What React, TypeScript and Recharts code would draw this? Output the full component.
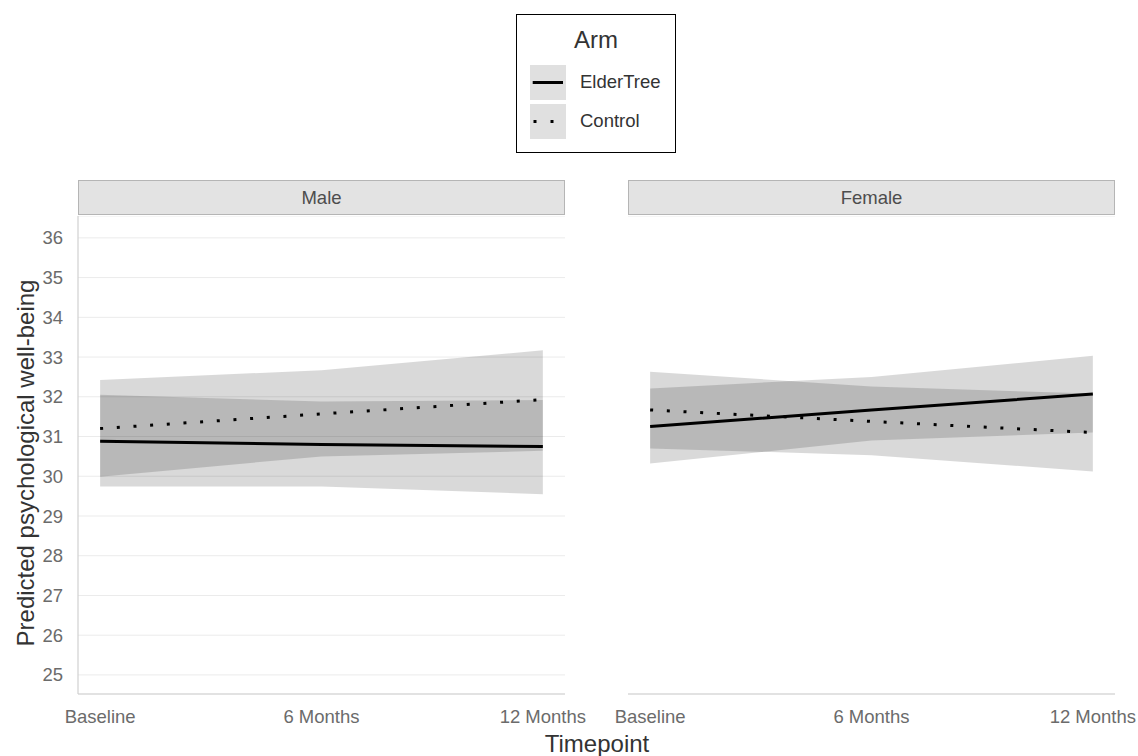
import { ComposedChart, Area, Line, XAxis, YAxis, CartesianGrid } from "recharts";

// months from baseline
const months = [0, 6, 12];
const monthLabels: Record<number, string> = { 0: "Baseline", 6: "6 Months", 12: "12 Months" };
const yTicks = [25, 26, 27, 28, 29, 30, 31, 32, 33, 34, 35, 36];

// Male
const maleElder = [30.88, 30.8, 30.75];
const maleElderLow = [29.74, 29.74, 29.55];
const maleElderHigh = [32.05, 31.88, 31.92];
const maleControl = [31.2, 31.57, 31.93];
const maleControlLow = [29.99, 30.5, 30.64];
const maleControlHigh = [32.42, 32.67, 33.17];

// Female
const femaleElder = [31.25, 31.67, 32.07];
const femaleElderLow = [30.32, 30.9, 31.1];
const femaleElderHigh = [32.21, 32.5, 33.03];
const femaleControl = [31.67, 31.38, 31.1];
const femaleControlLow = [30.7, 30.53, 30.12];
const femaleControlHigh = [32.63, 32.26, 32.08];

const FONT = '"Liberation Sans", Arial, sans-serif';
const AXIS_LINE = "#d0d0d0";
const TICK = { fontSize: 18.5, fill: "#6b6b6b", fontFamily: FONT };

function buildRows(
  elder: number[], elderLow: number[], elderHigh: number[],
  control: number[], controlLow: number[], controlHigh: number[],
) {
  return months.map((m, i) => ({
    month: m,
    elder: elder[i],
    control: control[i],
    elderBand: [elderLow[i], elderHigh[i]],
    controlBand: [controlLow[i], controlHigh[i]],
  }));
}

const maleRows = buildRows(maleElder, maleElderLow, maleElderHigh, maleControl, maleControlLow, maleControlHigh);
const femaleRows = buildRows(femaleElder, femaleElderLow, femaleElderHigh, femaleControl, femaleControlLow, femaleControlHigh);

interface PanelProps {
  data: ReturnType<typeof buildRows>;
  left: number;
  width: number;
  marginLeft: number;
  marginRight: number;
  showY: boolean;
}

function Panel({ data, left, width, marginLeft, marginRight, showY }: PanelProps) {
  return (
    <div style={{ position: "absolute", left, top: 216 }}>
      <ComposedChart
        width={width}
        height={520}
        data={data}
        margin={{ top: 0, right: marginRight, left: marginLeft, bottom: 0 }}
      >
        <CartesianGrid vertical={false} stroke="#ebebeb" strokeWidth={1} />
        <XAxis
          dataKey="month"
          type="number"
          domain={[-0.6, 12.6]}
          ticks={months}
          allowDataOverflow
          tickFormatter={(v: number) => monthLabels[v] ?? ""}
          tick={TICK}
          tickLine={false}
          tickMargin={10}
          height={42}
          axisLine={{ stroke: AXIS_LINE, strokeWidth: 1.2 }}
        />
        <YAxis
          type="number"
          domain={[24.52, 36.55]}
          ticks={yTicks}
          allowDataOverflow
          width={showY ? 78 : 0}
          tick={showY ? TICK : false}
          tickLine={false}
          tickMargin={9}
          axisLine={showY ? { stroke: AXIS_LINE, strokeWidth: 1.2 } : false}
        />

        {/* confidence ribbons */}
        <Area
          dataKey="elderBand"
          type="linear"
          fill="#000"
          fillOpacity={0.15}
          stroke="none"
          isAnimationActive={false}
        />
        <Area
          dataKey="controlBand"
          type="linear"
          fill="#000"
          fillOpacity={0.15}
          stroke="none"
          isAnimationActive={false}
        />

        <Line
          dataKey="elder"
          type="linear"
          stroke="#000"
          strokeWidth={3}
          dot={false}
          isAnimationActive={false}
        />
        <Line
          dataKey="control"
          type="linear"
          stroke="#000"
          strokeWidth={3}
          strokeDasharray="3 13.7"
          strokeLinecap="butt"
          dot={false}
          isAnimationActive={false}
        />
      </ComposedChart>
    </div>
  );
}

function Strip({ left, label }: { left: number; label: string }) {
  return (
    <div
      style={{
        position: "absolute",
        left,
        top: 180,
        width: 487,
        height: 35,
        boxSizing: "border-box",
        background: "#e3e3e3",
        border: "1px solid #b5b5b5",
        display: "flex",
        alignItems: "center",
        justifyContent: "center",
        fontFamily: FONT,
        fontSize: 18.5,
        color: "#4d4d4d",
      }}
    >
      {label}
    </div>
  );
}

function LegendKey({ dotted }: { dotted: boolean }) {
  return (
    <div style={{ width: 36, height: 35, background: "#e0e0e0", position: "relative" }}>
      <svg width={36} height={35} style={{ position: "absolute", left: 0, top: 0 }}>
        {dotted ? (
          <line x1={3.5} y1={17.5} x2={34} y2={17.5} stroke="#000" strokeWidth={3} strokeDasharray="3 14" />
        ) : (
          <line x1={2.7} y1={17.5} x2={33} y2={17.5} stroke="#000" strokeWidth={3} />
        )}
      </svg>
    </div>
  );
}

export default function App() {
  return (
    <div
      style={{
        position: "absolute",
        left: 0,
        top: 0,
        width: 1138,
        height: 756,
        background: "#fff",
        fontFamily: FONT,
        overflow: "hidden",
      }}
    >
      {/* Legend */}
      <div
        style={{
          position: "absolute",
          left: 516,
          top: 14,
          width: 160,
          height: 139,
          boxSizing: "border-box",
          border: "1.5px solid #000",
        }}
      >
        <div
          style={{
            position: "absolute",
            left: 0,
            width: "100%",
            top: 13,
            textAlign: "center",
            fontSize: 24,
            lineHeight: "24px",
            color: "#333",
          }}
        >
          Arm
        </div>
        <div style={{ position: "absolute", left: 13, top: 49.5, display: "flex", alignItems: "center", gap: 14 }}>
          <LegendKey dotted={false} />
          <span style={{ fontSize: 18.5, color: "#333" }}>ElderTree</span>
        </div>
        <div style={{ position: "absolute", left: 13, top: 88.5, display: "flex", alignItems: "center", gap: 14 }}>
          <LegendKey dotted />
          <span style={{ fontSize: 18.5, color: "#333" }}>Control</span>
        </div>
      </div>

      <Strip left={78} label="Male" />
      <Strip left={628} label="Female" />

      <Panel data={maleRows} left={0} width={595} marginLeft={0} marginRight={30} showY />
      <Panel data={femaleRows} left={600} width={538} marginLeft={28} marginRight={23} showY={false} />

      {/* axis titles */}
      <div
        style={{
          position: "absolute",
          left: 26,
          top: 463,
          transform: "translate(-50%, -50%) rotate(-90deg)",
          whiteSpace: "nowrap",
          fontSize: 24,
          lineHeight: "24px",
          color: "#333",
        }}
      >
        Predicted psychological well-being
      </div>
      <div
        style={{
          position: "absolute",
          left: 597,
          top: 732,
          transform: "translateX(-50%)",
          whiteSpace: "nowrap",
          fontSize: 24,
          lineHeight: "24px",
          color: "#333",
        }}
      >
        Timepoint
      </div>
    </div>
  );
}
